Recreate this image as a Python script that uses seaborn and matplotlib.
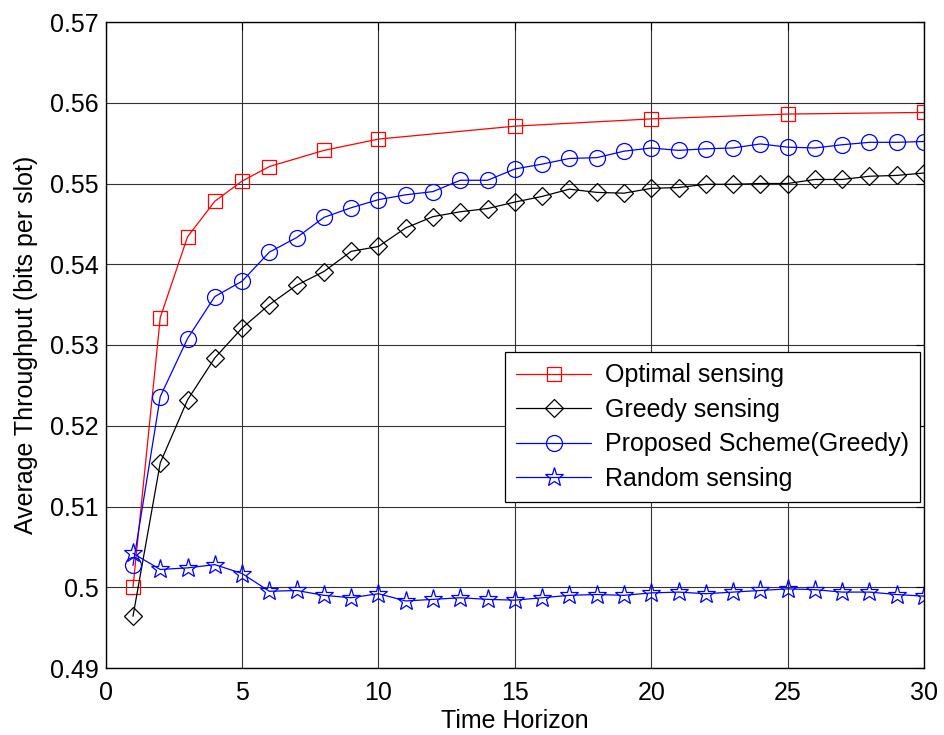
import numpy as np
import pandas as pd
import matplotlib
matplotlib.use("Agg")
import matplotlib.pyplot as plt
import seaborn as sns

# ---- data ----
x_opt = [1, 2, 3, 4, 5, 6, 8, 10, 15, 20, 25, 30]
y_opt = [0.5000, 0.5334, 0.5434, 0.5478, 0.5503, 0.5521, 0.5541, 0.5555,
         0.5571, 0.5580, 0.5586, 0.5588]

x_all = list(range(1, 31))
y_greedy = [0.4964, 0.5154, 0.5232, 0.5284, 0.5321, 0.5350, 0.5374, 0.5391,
            0.5416, 0.5422, 0.5445, 0.5459, 0.5465, 0.5469, 0.5477, 0.5484,
            0.5493, 0.5489, 0.5488, 0.5494, 0.5495, 0.5499, 0.5499, 0.5500,
            0.5500, 0.5505, 0.5505, 0.5509, 0.5510, 0.5513]
y_prop = [0.5027, 0.5236, 0.5308, 0.5360, 0.5379, 0.5415, 0.5433, 0.5458,
          0.5470, 0.5480, 0.5486, 0.5490, 0.5504, 0.5504, 0.5518, 0.5524,
          0.5531, 0.5532, 0.5540, 0.5544, 0.5541, 0.5543, 0.5544, 0.5549,
          0.5545, 0.5544, 0.5548, 0.5551, 0.5551, 0.5552]
y_rand = [0.5042, 0.5022, 0.5024, 0.5028, 0.5017, 0.4995, 0.4996, 0.4990,
          0.4987, 0.4992, 0.4983, 0.4985, 0.4987, 0.4985, 0.4984, 0.4987,
          0.4990, 0.4991, 0.4990, 0.4993, 0.4994, 0.4992, 0.4994, 0.4996,
          0.4998, 0.4997, 0.4994, 0.4994, 0.4991, 0.4989]

labels = ["Optimal sensing", "Greedy sensing", "Proposed Scheme(Greedy)", "Random sensing"]
x_ticks = [0, 5, 10, 15, 20, 25, 30]
y_ticks = [0.49, 0.50, 0.51, 0.52, 0.53, 0.54, 0.55, 0.56, 0.57]
y_ticklabels = ["0.49", "0.5", "0.51", "0.52", "0.53", "0.54", "0.55", "0.56", "0.57"]

sns.set_style("white")
plt.rcParams['font.family'] = ['Liberation Sans', 'DejaVu Sans']
plt.rcParams['text.color'] = 'black'
plt.rcParams['axes.labelcolor'] = 'black'

fig = plt.figure(figsize=(9.44, 7.35), dpi=100)
ax = fig.add_axes([105.7/944, 1 - 668/735, (924 - 105.7)/944, (668 - 22)/735])

series = [
    (x_opt, y_opt, labels[0], "red", "s", 10.5),
    (x_all, y_greedy, labels[1], "black", "D", 9.0),
    (x_all, y_prop, labels[2], "blue", "o", 11.5),
    (x_all, y_rand, labels[3], "blue", "*", 14.0),
]
for xs, ys, lab, col, mk, ms in series:
    df = pd.DataFrame({"x": xs, "y": ys})
    sns.lineplot(data=df, x="x", y="y", ax=ax, color=col, marker=mk,
                 markersize=ms, markerfacecolor="none", markeredgecolor=col,
                 markeredgewidth=0.9, linewidth=0.9, label=lab)

ax.set_xlim(0, 30)
ax.set_ylim(0.49, 0.57)
ax.set_xticks(x_ticks)
ax.set_xticklabels([str(t) for t in x_ticks])
ax.set_yticks(y_ticks)
ax.set_yticklabels(y_ticklabels)
ax.grid(True, color="0.2", linewidth=0.8, linestyle="-")
ax.tick_params(axis="both", direction="in", labelsize=18, length=6,
               top=True, right=True, width=0.8, colors="black")
ax.tick_params(axis="x", pad=9)
ax.tick_params(axis="y", pad=5)
for sp in ax.spines.values():
    sp.set_color("black")
    sp.set_linewidth(1.0)
ax.set_xlabel("Time Horizon", fontsize=18, labelpad=3, color="black")
ax.set_ylabel("Average Throughput (bits per slot)", fontsize=18, labelpad=9, color="black")

leg = ax.legend(loc="upper right", bbox_to_anchor=((920 - 105.7)/818.3, (668 - 352)/646),
                borderaxespad=0, fontsize=18, frameon=True, fancybox=False,
                edgecolor="black", framealpha=1, handlelength=3.0,
                labelspacing=0.42, borderpad=0.45, handletextpad=0.55)
leg.get_frame().set_linewidth(0.9)
for t in leg.get_texts():
    t.set_color("black")

fig.savefig("out.png", dpi=100)
